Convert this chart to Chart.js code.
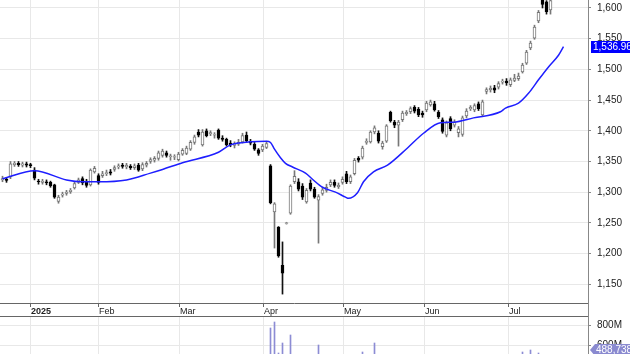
<!DOCTYPE html>
<html><head><meta charset="utf-8">
<script src="https://cdn.jsdelivr.net/npm/chart.js@4.4.1/dist/chart.umd.min.js"></script>
<style>
html,body{margin:0;padding:0;background:#fff;overflow:hidden}
#pbox{position:absolute;left:0;top:0;width:630px;height:317px}
#vbox{position:absolute;left:0;top:317px;width:630px;height:37px}
</style></head><body>
<div id="pbox"><canvas id="price"></canvas></div>
<div id="vbox"><canvas id="vol"></canvas></div>
<script>
// ---- data ----
const opens  = [1320,1321,1325,1345,1347,1344,1346,1345,1336,1318,1316,1317,1316,1312,1285,1295,1298,1301,1307,1316,
1322,1318,1312,1333,1327,1327,1330,1333,1337,1341,1344,1341,1342,1340,1344,1338,1344,1350,1352,1355,
1360,1364,1358,1357,1353,1362,1363,1370,1381,1398,1377,1400,1395,1393,1401,1388,1386,1380,1376,1378,
1382,1393,1383,1378,1369,1369,1373,1343,1268,1243,1181,1249,1266,1317,1317,1310,1284,1315,1305,1287,
1298,1303,1312,1316,1309,1316,1330,1317,1330,1355,1357,1381,1382,1398,1396,1374,1383,1430,1414,1409,
1418,1428,1431,1438,1435,1429,1434,1442,1444,1430,1418,1393,1420,1409,1397,1394,1424,1436,1434,1444,
1426,1464,1467,1470,1471,1479,1481,1475,1482,1485,1496,1510,1535,1551,1579,1615,1610,1597];
const highs  = [1326,1324,1350,1350,1350,1349,1349,1347,1340,1321,1321,1320,1318,1313,1295,1300,1303,1306,1316,1323,
1325,1321,1338,1342,1330,1334,1336,1337,1343,1346,1347,1347,1345,1346,1347,1348,1350,1356,1358,1367,
1370,1367,1362,1361,1365,1371,1375,1384,1393,1402,1402,1403,1400,1397,1403,1392,1388,1384,1382,1386,
1396,1398,1386,1381,1371,1378,1383,1345,1283,1244,1219,1251,1312,1335,1322,1314,1306,1320,1308,1296,
1308,1313,1320,1320,1315,1325,1334,1328,1355,1358,1375,1387,1400,1408,1400,1383,1410,1432,1417,1417,
1432,1433,1439,1441,1438,1432,1448,1450,1448,1433,1421,1416,1423,1418,1407,1424,1436,1441,1444,1447,
1450,1470,1473,1474,1480,1484,1485,1486,1492,1494,1510,1531,1546,1572,1596,1620,1612,1616];
const lows   = [1317,1316,1322,1342,1342,1341,1341,1340,1320,1313,1313,1312,1308,1290,1282,1292,1295,1298,1305,1314,
1312,1308,1310,1331,1313,1324,1327,1328,1334,1338,1339,1338,1337,1337,1334,1335,1341,1347,1349,1352,
1357,1357,1352,1353,1351,1360,1361,1368,1378,1390,1375,1390,1392,1388,1386,1383,1375,1374,1372,1376,
1380,1381,1377,1368,1360,1366,1371,1281,1209,1194,1134,1248,1264,1314,1302,1288,1282,1302,1290,1217,
1295,1300,1309,1308,1306,1313,1314,1314,1328,1349,1354,1378,1380,1395,1380,1370,1381,1414,1405,1375,
1415,1425,1428,1429,1423,1422,1431,1440,1432,1420,1396,1390,1400,1406,1390,1391,1421,1433,1431,1433,
1424,1460,1463,1462,1468,1476,1474,1472,1480,1482,1494,1508,1532,1549,1576,1600,1590,1590];
const closes = [1322,1319,1346,1347,1345,1346,1344,1343,1323,1317,1318,1315,1310,1292,1292,1297,1300,1303,1314,1320,
1315,1311,1336,1339,1316,1330,1332,1331,1340,1343,1342,1344,1340,1343,1336,1345,1347,1353,1355,1364,
1367,1360,1359,1358,1362,1368,1372,1381,1390,1393,1398,1392,1397,1394,1388,1386,1377,1377,1379,1381,
1392,1384,1380,1370,1363,1375,1379,1283,1281,1196,1168,1250,1310,1326,1305,1292,1303,1305,1292,1293,
1304,1308,1316,1311,1311,1321,1317,1325,1352,1352,1372,1383,1398,1405,1383,1380,1408,1416,1409,1414,
1429,1430,1436,1432,1426,1426,1445,1447,1434,1423,1399,1413,1403,1414,1403,1421,1432,1438,1441,1436,
1447,1467,1469,1466,1477,1481,1478,1483,1486,1489,1507,1528,1543,1569,1593,1606,1594,1612];
// volume, millions of shares
const volumes = [420,410,450,400,390,380,400,430,460,440,430,420,450,470,460,430,420,410,440,430,
450,460,470,440,460,430,420,410,420,400,410,430,420,410,440,430,420,410,430,450,
440,450,430,420,440,450,460,470,480,460,470,460,450,440,460,470,480,460,450,440,
450,470,460,480,490,470,480,770,830,520,620,470,700,500,480,490,470,450,440,600,
430,420,440,430,450,440,460,450,470,440,530,430,440,620,450,440,470,460,450,470,
440,430,420,430,440,450,440,430,450,460,480,470,460,450,440,470,450,430,440,450,
460,470,450,440,430,450,460,440,450,470,530,450,550,480,520,500,495,488.738];
// moving average (x = trading-day index)
const maIdx  = [0,8,16,20,24,31,37,40,45,54,57,62,66,67,68,69.5,70.75,72.5,75.75,77.5,80,83.25,85.75,86.5,88.75,90.25,92.75,96.25,101.25,105.25,109.5,112.75,117.75,124.5,125.75,129,131.5,134,136.5,139,140.25];
const maVals = [1322,1335,1320,1317,1317,1320,1331,1337,1348,1365,1377,1382,1383,1381,1370,1356,1347,1341,1331,1321,1308,1300,1292,1290,1299,1317,1333,1344,1372,1396,1413,1414,1421,1431,1437,1445,1461,1483,1504,1523,1536.96];
const monthTicks  = [6.875,23.875,44.125,65.125,85.125,105.375,126.375];
const monthLabels = ['2025','Feb','Mar','Apr','May','Jun','Jul'];
const priceTicks  = [1150,1200,1250,1300,1350,1400,1450,1500,1550,1600];
const volTicks    = [600,800];

const FONT = '"Liberation Sans", Arial, sans-serif';
const idx = opens.map((_, i) => i);
const XMIN = -0.625, XMAX = 146.375;

const xScaleBase = {
  type:'linear', min:XMIN, max:XMAX, offset:false,
  afterBuildTicks: s => { s.ticks = monthTicks.map(v => ({value:v})); }
};

const pricePlugin = {
  id:'priceExtras',
  afterDraw(chart){
    const {ctx, chartArea, scales} = chart;
    ctx.save();
    ctx.strokeStyle = '#888'; ctx.lineWidth = 1;
    ctx.beginPath(); ctx.moveTo(chartArea.right+0.5, chartArea.bottom); ctx.lineTo(chartArea.right+0.5, chart.height); ctx.stroke();
    ctx.strokeStyle = '#666';
    ctx.beginPath(); ctx.moveTo(0, chart.height-0.5); ctx.lineTo(chartArea.right, chart.height-0.5); ctx.stroke();
    const v = maVals[maVals.length-1];
    const y = Math.round(scales.y.getPixelForValue(v));
    ctx.fillStyle = '#0000ff';
    ctx.fillRect(chartArea.right+3, y-6, 50, 12);
    ctx.fillStyle = '#fff'; ctx.font = '10px ' + FONT; ctx.textBaseline = 'middle'; ctx.textAlign = 'left';
    ctx.fillText(v.toLocaleString('en-US',{minimumFractionDigits:2}), chartArea.right+5, y+0.5);
    ctx.restore();
  }
};

new Chart(document.getElementById('price'), {
  type:'bar',
  data:{ datasets:[
    { type:'line', data: maIdx.map((x,k)=>({x, y:maVals[k]})), borderColor:'#1e1eff', borderWidth:1.5,
      pointRadius:0, cubicInterpolationMode:'monotone', order:0 },
    { data: idx.map(i=>({x:i, y:[lows[i], highs[i]]})), barThickness:1, grouped:false,
      backgroundColor: c => (closes[c.dataIndex] >= opens[c.dataIndex] ? '#777' : '#111'), order:2 },
    { data: idx.map(i=>({x:i, y:[opens[i], closes[i]]})), barThickness:3, grouped:false, borderWidth:1, borderSkipped:false,
      backgroundColor: c => (closes[c.dataIndex] >= opens[c.dataIndex] ? '#fff' : '#000'),
      borderColor: c => (closes[c.dataIndex] >= opens[c.dataIndex] ? '#777' : '#000'), order:1 }
  ]},
  options:{
    responsive:true, maintainAspectRatio:false, animation:false,
    layout:{padding:0},
    plugins:{legend:{display:false}, tooltip:{enabled:false}},
    scales:{
      x: Object.assign({}, xScaleBase, {
        position:'bottom',
        ticks:{ autoSkip:false, maxRotation:0, align:'start', labelOffset:1, padding:-1, color:'#222',
          font: c => ({family:FONT, size:9, weight: c.index===0 ? 'bold' : 'normal'}),
          callback:(v, i) => monthLabels[i] },
        grid:{ offset:false, color:'#e8e8e8', tickColor:'#666', tickLength:4 },
        border:{ color:'#666' },
        afterFit: s => { s.height = 14; s.paddingLeft = 0; s.paddingRight = 0; }
      }),
      y:{ position:'right', min:1119.5, max:1613,
        afterBuildTicks: s => { s.ticks = priceTicks.map(v => ({value:v})); },
        ticks:{ color:'#222', font:{family:FONT, size:10}, padding:6,
          callback: v => v.toLocaleString('en-US') },
        grid:{ color:'#e8e8e8', tickColor:'#888', tickLength:3 },
        border:{ color:'#888' },
        afterFit: s => { s.width = 42; s.paddingTop = 0; s.paddingBottom = 0; }
      }
    }
  },
  plugins:[pricePlugin]
});

const volPlugin = {
  id:'volExtras',
  afterDraw(chart){
    const {ctx, chartArea, scales} = chart;
    const v = volumes[volumes.length-1];
    const y = Math.min(Math.round(scales.y.getPixelForValue(v)), chartArea.bottom - 4);
    const x = chartArea.right + 2;
    ctx.save();
    ctx.fillStyle = '#8a8ad0';
    ctx.beginPath(); ctx.moveTo(x, y); ctx.lineTo(x+5, y-6); ctx.lineTo(x+45, y-6); ctx.lineTo(x+45, y+6); ctx.lineTo(x+5, y+6); ctx.closePath(); ctx.fill();
    ctx.fillStyle = '#fff'; ctx.font = '10px ' + FONT; ctx.textBaseline = 'middle'; ctx.textAlign = 'left';
    ctx.fillText(Math.round(v*1000).toLocaleString('en-US'), x+6, y+0.5);
    ctx.restore();
  }
};

new Chart(document.getElementById('vol'), {
  type:'bar',
  data:{ datasets:[
    { data: idx.map(i=>({x:i, y:volumes[i]})), barThickness:1, backgroundColor:'#8c8cd4', grouped:false }
  ]},
  options:{
    responsive:true, maintainAspectRatio:false, animation:false,
    layout:{padding:0},
    plugins:{legend:{display:false}, tooltip:{enabled:false}},
    scales:{
      x: Object.assign({}, xScaleBase, {
        ticks:{display:false}, grid:{offset:false, color:'#e8e8e8', drawTicks:false}, border:{display:false},
        afterFit: s => { s.height = 0; s.paddingLeft = 0; s.paddingRight = 0; }
      }),
      y:{ position:'right', min:510, max:880,
        afterBuildTicks: s => { s.ticks = volTicks.map(v => ({value:v})); },
        ticks:{ color:'#222', font:{family:FONT, size:10}, padding:6, callback: v => v + 'M' },
        grid:{ color:'#e8e8e8', tickColor:'#888', tickLength:3 },
        border:{ color:'#888' },
        afterFit: s => { s.width = 42; s.paddingTop = 0; s.paddingBottom = 0; }
      }
    }
  },
  plugins:[volPlugin]
});
</script>
</body></html>
